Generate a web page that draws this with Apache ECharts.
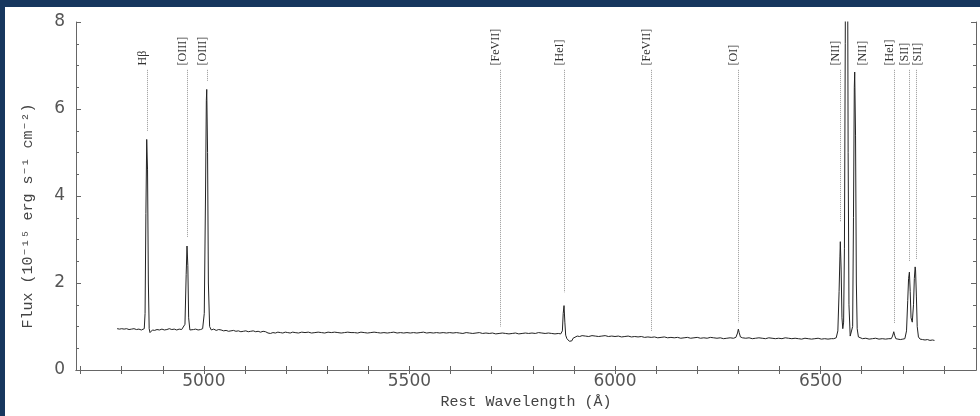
<!DOCTYPE html>
<html>
<head>
<meta charset="utf-8">
<script src="https://cdn.jsdelivr.net/npm/echarts@6/dist/echarts.min.js"></script>
<style>
html,body{margin:0;padding:0;background:#fff;}
#chart{width:980px;height:416px;}
</style>
</head>
<body>
<div id="chart"></div>
<script>
// ---- data ----
const xTickLabels = [5000, 5500, 6000, 6500];
const xTickValues = [4700,4800,4900,5000,5100,5200,5300,5400,5500,5600,5700,5800,5900,6000,6100,6200,6300,6400,6500,6600,6700,6800];
const yTickLabels = [0, 2, 4, 6, 8];

const lineNames = ['Hβ','[OIII]','[OIII]','[FeVII]','[HeI]','[FeVII]','[OI]','[NII]','[NII]','[HeI]','[SII]','[SII]'];
const lineWaves = [4861, 4959, 5007, 5721, 5876, 6087, 6300, 6548, 6583, 6678, 6716, 6731];
const lineMarkerEnds = [5.5, 3.05, 6.65, 1.0, 1.79, 0.88, 1.1, 3.4, 6.9, 1.08, 2.5, 2.55];

const spectrum = [
[4789,0.95],[4795,0.94],[4800,0.95],[4806,0.94],[4812,0.95],[4818,0.93],[4824,0.94],[4830,0.95],[4836,0.93],[4842,0.94],[4848,0.92],[4852,0.93],[4855,0.95],
[4857,1.3],[4859,3.6],[4861,5.3],[4863,4.6],[4865,2.0],[4867,0.95],[4869,0.86],[4872,0.88],[4875,0.92],[4880,0.91],[4886,0.93],[4892,0.92],[4898,0.94],
[4904,0.92],[4910,0.93],[4916,0.95],[4922,0.93],[4928,0.94],[4934,0.92],[4940,0.94],[4946,0.93],[4950,0.94],
[4954,1.05],[4957,2.2],[4959,2.85],[4961,2.4],[4963,1.2],[4966,0.92],[4970,0.90],[4975,0.93],[4980,0.94],[4986,0.92],[4992,0.93],[4997,0.95],
[5001,1.3],[5004,4.0],[5006,6.2],[5007,6.45],[5009,5.0],[5011,2.0],[5014,1.0],[5018,0.92],[5024,0.94],[5030,0.91],[5036,0.93],[5042,0.92],
[5048,0.90],[5054,0.91],[5060,0.89],[5066,0.90],[5072,0.91],[5078,0.89],[5084,0.90],[5090,0.88],[5096,0.89],[5102,0.90],[5108,0.88],[5114,0.89],
[5120,0.90],[5126,0.88],[5132,0.89],[5138,0.87],[5144,0.89],[5150,0.88],[5156,0.85],[5162,0.84],[5168,0.86],[5174,0.85],[5180,0.87],[5186,0.86],
[5192,0.85],[5198,0.87],[5204,0.86],[5210,0.85],[5216,0.87],[5222,0.86],[5230,0.85],[5238,0.87],[5246,0.86],[5254,0.87],[5262,0.85],[5270,0.86],
[5278,0.87],[5286,0.86],[5294,0.85],[5302,0.87],[5310,0.86],[5318,0.87],[5326,0.86],[5334,0.85],[5342,0.86],[5350,0.87],[5358,0.86],[5366,0.86],
[5374,0.85],[5382,0.87],[5390,0.86],[5398,0.85],[5406,0.86],[5414,0.87],[5422,0.86],[5430,0.85],[5438,0.86],[5446,0.85],[5454,0.86],[5462,0.87],
[5470,0.85],[5478,0.86],[5486,0.85],[5494,0.86],[5502,0.85],[5510,0.86],[5518,0.85],[5526,0.86],[5534,0.87],[5542,0.85],[5550,0.86],[5558,0.85],
[5566,0.86],[5574,0.85],[5582,0.86],[5590,0.85],[5598,0.86],[5606,0.85],[5614,0.86],[5622,0.85],[5630,0.84],[5638,0.86],[5646,0.85],[5654,0.84],
[5662,0.85],[5670,0.86],[5678,0.84],[5686,0.85],[5694,0.84],[5702,0.85],[5710,0.83],[5718,0.84],[5726,0.85],[5734,0.84],[5742,0.83],[5750,0.84],
[5758,0.85],[5766,0.83],[5774,0.84],[5782,0.85],[5790,0.84],[5798,0.85],[5806,0.84],[5814,0.86],[5822,0.85],[5830,0.84],[5838,0.85],[5846,0.84],
[5854,0.83],[5862,0.84],[5868,0.83],[5872,0.90],[5874,1.30],[5876,1.48],[5878,1.1],[5880,0.80],[5883,0.72],[5886,0.74],[5889,0.66],[5892,0.70],
[5895,0.67],[5898,0.73],[5902,0.76],[5908,0.78],[5914,0.77],[5920,0.79],[5928,0.78],[5936,0.77],[5944,0.79],[5952,0.78],[5960,0.77],[5968,0.78],
[5976,0.79],[5984,0.77],[5992,0.78],[6000,0.77],[6008,0.78],[6016,0.76],[6024,0.77],[6032,0.78],[6040,0.76],[6048,0.77],[6056,0.76],[6064,0.77],
[6072,0.75],[6080,0.76],[6088,0.75],[6096,0.76],[6104,0.74],[6112,0.75],[6120,0.76],[6128,0.74],[6136,0.75],[6144,0.74],[6152,0.75],[6160,0.73],
[6168,0.74],[6176,0.75],[6184,0.73],[6192,0.74],[6200,0.75],[6208,0.73],[6216,0.74],[6224,0.73],[6232,0.75],[6240,0.74],[6248,0.73],[6256,0.74],
[6264,0.72],[6272,0.73],[6280,0.74],[6288,0.73],[6294,0.75],[6298,0.85],[6300,0.94],[6302,0.86],[6305,0.76],[6310,0.74],[6318,0.73],[6326,0.74],
[6334,0.72],[6342,0.73],[6350,0.74],[6358,0.73],[6366,0.72],[6374,0.74],[6382,0.73],[6390,0.72],[6398,0.73],[6406,0.72],[6414,0.74],[6422,0.73],
[6430,0.72],[6438,0.73],[6446,0.72],[6454,0.71],[6462,0.73],[6470,0.72],[6478,0.71],[6486,0.72],[6494,0.73],[6502,0.71],[6510,0.72],[6518,0.71],
[6526,0.72],[6532,0.72],[6538,0.74],[6542,0.9],[6545,1.8],[6547,2.6],[6548,2.95],[6550,2.3],[6552,1.2],[6554,0.95],[6556,1.1],[6558,2.8],
[6560,7.5],[6562,14.0],[6563,16.0],[6565,12.0],[6567,5.0],[6569,1.5],[6572,0.78],[6575,0.74],[6578,1.0],[6580,3.5],[6582,6.5],[6583,6.85],
[6585,5.4],[6587,2.0],[6589,0.95],[6592,0.76],[6596,0.73],[6602,0.72],[6610,0.73],[6618,0.71],[6626,0.72],[6634,0.73],[6642,0.71],[6650,0.72],
[6658,0.71],[6666,0.72],[6672,0.72],[6675,0.78],[6678,0.88],[6680,0.80],[6683,0.72],[6688,0.71],[6694,0.70],[6700,0.71],[6705,0.72],[6709,0.9],
[6712,1.6],[6714,2.1],[6716,2.25],[6718,1.8],[6720,1.2],[6723,1.1],[6726,1.5],[6728,2.1],[6730,2.37],[6731,2.3],[6733,1.7],[6735,1.0],[6738,0.76],
[6742,0.71],[6748,0.70],[6754,0.69],[6760,0.70],[6766,0.68],[6772,0.69],[6777,0.68]
];

// ---- chart ----
const chart = echarts.init(document.getElementById('chart'), null, {renderer: 'canvas'});
const markerData = lineWaves.map((w, i) => [w, lineMarkerEnds[i]]);
const MARK_TOP = 6.9, LABEL_BASE = 7.0;
// label placement relative to its dotted line (default: left of the line)
const labelSideByIndex = {8: 'top', 11: 'middle'};
const axisColor = '#666';
const tickLabelStyle = {color: '#555', fontFamily: 'DejaVu Sans', fontSize: 17};
const titleStyle = {color: '#444', fontFamily: '"Liberation Mono", "DejaVu Sans Mono", monospace', fontSize: 15};

function xAxisDef(pos, showLabels) {
  return {
    type: 'value', position: pos, min: 4689, max: 6878,
    axisLine: {show: true, lineStyle: {color: axisColor, width: 1}},
    axisTick: {show: true, inside: true, length: 4, customValues: xTickValues, lineStyle: {color: axisColor}},
    axisLabel: Object.assign({show: showLabels, margin: 3, customValues: xTickLabels,
      formatter: function (v) { return String(v); }}, tickLabelStyle),
    splitLine: {show: false}
  };
}
function yAxisDef(pos, showLabels) {
  return {
    type: 'value', position: pos, min: yTickLabels[0], max: yTickLabels[yTickLabels.length - 1], interval: 2,
    axisLine: {show: true, lineStyle: {color: axisColor, width: 1}},
    axisTick: {show: true, inside: true, length: 5, lineStyle: {color: axisColor}},
    minorTick: {show: true, splitNumber: 4, length: 3, lineStyle: {color: axisColor}},
    axisLabel: Object.assign({show: showLabels, margin: 11}, tickLabelStyle),
    splitLine: {show: false}
  };
}

const xb = xAxisDef('bottom', true);
xb.name = 'Rest Wavelength (Å)';
xb.nameLocation = 'middle';
xb.nameGap = 22;
xb.nameTextStyle = titleStyle;
const yl = yAxisDef('left', true);
yl.name = 'Flux (10⁻¹⁵ erg s⁻¹ cm⁻²)';
yl.nameLocation = 'middle';
yl.nameGap = 40;
yl.nameTextStyle = Object.assign({padding: [0, 40, 0, 0]}, titleStyle);

chart.setOption({
  animation: false,
  backgroundColor: '#ffffff',
  grid: {left: 76, right: 4, top: 22, bottom: 46, containLabel: false},
  xAxis: [xb, xAxisDef('top', false)],
  yAxis: [yl, yAxisDef('right', false)],
  graphic: [
    {type: 'rect', left: 0, top: 0, shape: {width: 980, height: 7}, style: {fill: '#17375e'}, z: 100},
    {type: 'rect', left: 0, top: 0, shape: {width: 5, height: 416}, style: {fill: '#17375e'}, z: 100}
  ],
  series: [
    {
      type: 'line', xAxisIndex: 0, yAxisIndex: 0, data: spectrum,
      showSymbol: false, symbol: 'none', clip: true,
      lineStyle: {color: '#222', width: 1}, silent: true
    },
    {
      type: 'custom', xAxisIndex: 0, yAxisIndex: 0, data: markerData, silent: true,
      renderItem: function (params, api) {
        const w = api.value(0), end = api.value(1);
        const pEnd = api.coord([w, end]);
        const pTop = api.coord([w, MARK_TOP]);
        const pLab = api.coord([w, LABEL_BASE]);
        const x = Math.round(pEnd[0]) + 0.5;
        const children = [];
        if (pEnd[1] - pTop[1] > 1) {
          children.push({type: 'line', shape: {x1: x, y1: pTop[1], x2: x, y2: pEnd[1]},
            style: {stroke: '#999', lineWidth: 1, lineDash: [1, 1]}});
        }
        const side = labelSideByIndex[params.dataIndex] || 'bottom';
        children.push({type: 'text', x: x + 1, y: pLab[1], rotation: Math.PI / 2,
          style: {text: lineNames[params.dataIndex], font: '12px "Liberation Serif", serif',
            fill: '#333', align: 'left', verticalAlign: side}});
        return {type: 'group', children: children};
      }
    }
  ]
});
</script>
</body>
</html>
